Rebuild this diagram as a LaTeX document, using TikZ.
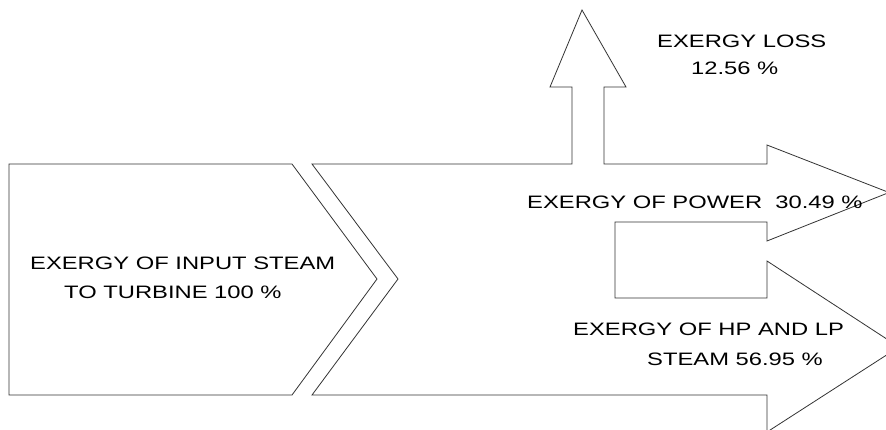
\documentclass[tikz,border=0pt]{standalone}
\usepackage{fontspec}
\setmainfont{Liberation Sans}
\usepackage{graphicx}
\tikzset{
    every node/.style={font=\fontsize{18}{22}\selectfont, inner sep=0pt},
    flow/.style={draw=black!80, line width=0.8pt, line join=miter},
    lbl/.style={anchor=base west},
}
\newcommand{\wide}[1]{\scalebox{1.32}[1]{#1}}

\begin{document}
\begin{tikzpicture}[x=1pt,y=-1pt]
  \useasboundingbox (0,0) rectangle (886,429);
  \clip (0,0) rectangle (886,429);
  % input block
  \draw[flow] (9,164) -- (292,164) -- (377,279) -- (292,395) -- (9,395) -- cycle;
  % split into loss, power and steam
  \draw[flow] (312,164) -- (572,164) -- (572,87) -- (550,87) -- (582,10)
    -- (626,87) -- (604,87) -- (604,164) -- (767,164) -- (767,145)
    -- (889,192.5) -- (767,241) -- (767,222) -- (615,222) -- (615,298)
    -- (767,298) -- (767,261) -- (899,347) -- (767,432) -- (767,395)
    -- (312,395) -- (398,279) -- cycle;
  \node[lbl] (in1) at (30,269) {\wide{EXERGY OF INPUT STEAM}};
  \node[lbl] (in2) at (64,298) {\wide{TO TURBINE 100 \%}};
  \node[lbl] (loss1) at (657,47) {\wide{EXERGY LOSS}};
  \node[lbl] (loss2) at (691,74) {\wide{12.56 \%}};
  \node[lbl] (power) at (527,208) {\wide{EXERGY OF POWER\ \ 30.49 \%}};
  \node[lbl] (hp1) at (573,335) {\wide{EXERGY OF HP AND LP}};
  \node[lbl] (hp2) at (647,365) {\wide{STEAM 56.95 \%}};
\end{tikzpicture}
\end{document}
